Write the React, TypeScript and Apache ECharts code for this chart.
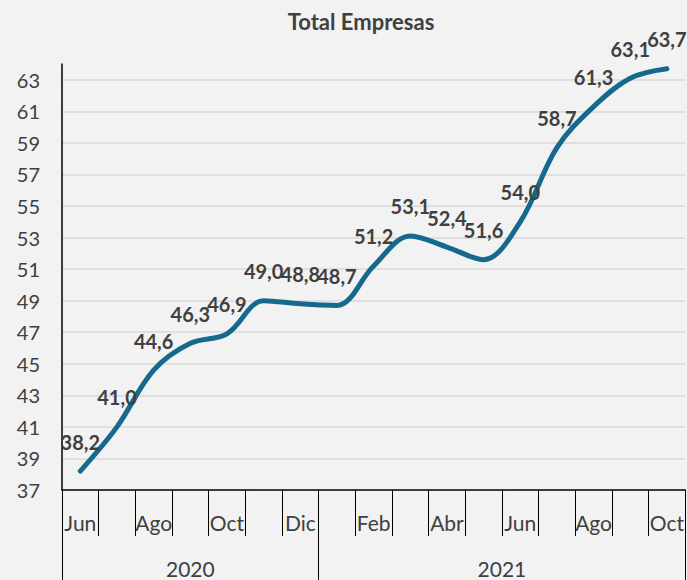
import React, { useEffect, useRef } from "react";
import * as echarts from "echarts";

const months = ["Jun", "Jul", "Ago", "Sep", "Oct", "Nov", "Dic", "Ene", "Feb", "Mar", "Abr", "May", "Jun", "Jul", "Ago", "Sep", "Oct"];
const values = [38.2, 41.0, 44.6, 46.3, 46.9, 49.0, 48.8, 48.7, 51.2, 53.1, 52.4, 51.6, 54.0, 58.7, 61.3, 63.1, 63.7];
const years = ["2020", "2021"];
const yearBoundaries = [0, 7, 17];
const yearCenters = [3.5, 12];

const FONT = "Lato";

export default function App() {
  const ref = useRef<HTMLDivElement>(null);
  useEffect(() => {
    if (!ref.current) return;
    const chart = echarts.init(ref.current, null, { renderer: "svg" });
    chart.setOption({
      animation: false,
      backgroundColor: "#f2f2f2",
      title: {
        text: "Total Empresas",
        left: 356,
        top: 5,
        textAlign: "center",
        textStyle: { fontFamily: FONT, fontWeight: "bold", fontSize: 22, color: "#404040" },
      },
      grid: { left: 62, right: 1, top: 64, bottom: 90, containLabel: false },
      xAxis: [
        {
          type: "category",
          data: months,
          boundaryGap: true,
          position: "bottom",
          axisLine: { show: true, lineStyle: { color: "#000", width: 1.5 } },
          axisTick: { show: true, interval: 0, length: 46, lineStyle: { color: "#000", width: 1 } },
          axisLabel: {
            interval: 1,
            margin: 22,
            fontFamily: FONT,
            fontSize: 21,
            color: "#404040",
          },
          splitLine: { show: false },
        },
        {
          type: "value",
          min: 0,
          max: 17,
          position: "bottom",
          offset: 46,
          axisLine: { show: false },
          axisTick: { show: true, customValues: yearBoundaries, length: 44, lineStyle: { color: "#000", width: 1 } },
          axisLabel: {
            customValues: yearCenters,
            margin: 22,
            fontFamily: FONT,
            fontSize: 21,
            color: "#404040",
            formatter: (v: number) => years[yearCenters.indexOf(v)] ?? "",
          },
          splitLine: { show: false },
        },
      ],
      yAxis: {
        type: "value",
        min: 37,
        max: 64,
        interval: 2,
        axisLine: { show: true, lineStyle: { color: "#000", width: 1.5 } },
        axisTick: { show: false },
        axisLabel: {
          showMaxLabel: false,
          margin: 22,
          fontFamily: FONT,
          fontSize: 20,
          color: "#404040",
        },
        splitLine: { show: true, showMinLine: false, showMaxLine: false, lineStyle: { color: "#d9d9d9", width: 1.5 } },
      },
      series: [
        {
          type: "line",
          xAxisIndex: 0,
          data: values,
          smooth: 0.35,
          symbol: "circle",
          symbolSize: 1,
          showSymbol: true,
          itemStyle: { color: "rgba(0,0,0,0)" },
          lineStyle: { color: "#15698c", width: 5, cap: "round" },
          label: {
            show: true,
            position: "top",
            distance: 19,
            fontFamily: FONT,
            fontWeight: "bold",
            fontSize: 20,
            color: "#404040",
            formatter: (p: any) => Number(p.value).toFixed(1).replace(".", ","),
          },
        },
      ],
    });
    return () => chart.dispose();
  }, []);
  return <div ref={ref} style={{ position: "fixed", left: 0, top: 0, width: 687, height: 580 }} />;
}
